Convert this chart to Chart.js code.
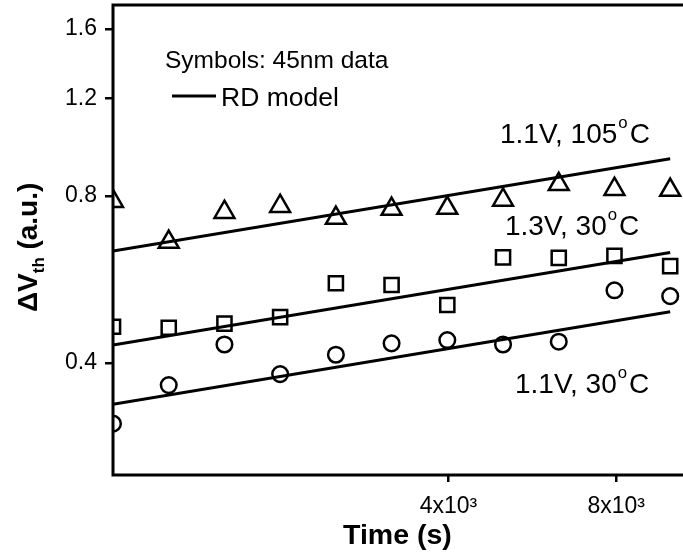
<!DOCTYPE html>
<html>
<head>
<meta charset="utf-8">
<script src="https://cdn.jsdelivr.net/npm/chart.js@4/dist/chart.umd.min.js"></script>
<style>
  html, body { margin: 0; padding: 0; background: #fff; overflow: hidden; }
  #wrap { width: 683px; height: 555px; overflow: hidden; }
  canvas { display: block; }
</style>
</head>
<body>
<div id="wrap"><canvas id="c" width="683" height="555"></canvas></div>
<script>
// ---- data ----
const times = [1000, 1259, 1585, 1995, 2512, 3162, 3981, 5012, 6310, 7943, 10000];
const dv_1p1V_105C = [0.783, 0.661, 0.748, 0.767, 0.730, 0.758, 0.761, 0.787, 0.840, 0.823, 0.820];
const dv_1p3V_30C  = [0.465, 0.463, 0.471, 0.484, 0.557, 0.553, 0.509, 0.620, 0.619, 0.624, 0.598];
const dv_1p1V_30C  = [0.311, 0.365, 0.432, 0.382, 0.414, 0.434, 0.440, 0.432, 0.437, 0.541, 0.528];

const modelTimes = [1000, 10000];
const model_1p1V_105C = [0.637, 0.934];
const model_1p3V_30C  = [0.431, 0.633];
const model_1p1V_30C  = [0.337, 0.495];

const xTickValues = [4000, 8000];
const xTickLabels = ['4x10\u00B3', '8x10\u00B3'];
const yTickValues = [0.4, 0.8, 1.2, 1.6];
const yTickLabels = ['0.4', '0.8', '1.2', '1.6'];

const FONT = '"Liberation Sans", Arial, Helvetica, sans-serif';

function pts(xs, ys) { return xs.map((x, i) => ({ x: x, y: ys[i] })); }

function symbolSet(data, style, radius) {
  return {
    type: 'line', data: data, showLine: false, clip: 0,
    pointStyle: style, pointRadius: radius, pointHoverRadius: radius,
    pointBorderColor: '#000', pointBackgroundColor: 'rgba(0,0,0,0)', pointBorderWidth: 2.5,
    borderColor: '#000'
  };
}
function modelSet(data) {
  return {
    type: 'line', data: data, showLine: true, clip: 0,
    borderColor: '#000', borderWidth: 3, pointRadius: 0, fill: false, tension: 0
  };
}

function rich(ctx, segs, x, y, size, bold) {
  let cx = x;
  ctx.textAlign = 'left';
  ctx.textBaseline = 'alphabetic';
  for (const s of segs) {
    const fs = (s.sup || s.sub) ? size * 0.6 : size;
    ctx.font = (bold ? 'bold ' : '') + fs + 'px ' + FONT;
    const dy = s.sup ? -size * 0.52 : (s.sub ? size * 0.25 : 0);
    if (s.sup) cx += 1;
    ctx.fillText(s.t, cx, y + dy);
    cx += ctx.measureText(s.t).width + (s.sup ? 2 : 0);
  }
}

// plot area as in the reference (its right edge lies past the visible window)
const PLOT = { left: 113, top: 5, right: 704, bottom: 475 };

const forceArea = {
  id: 'forceArea',
  afterLayout(chart) {
    const ca = chart.chartArea;
    ca.left = PLOT.left; ca.top = PLOT.top; ca.right = PLOT.right; ca.bottom = PLOT.bottom;
    ca.width = PLOT.right - PLOT.left; ca.height = PLOT.bottom - PLOT.top;
    const x = chart.scales.x, y = chart.scales.y;
    x.left = PLOT.left; x.right = PLOT.right; x.width = PLOT.right - PLOT.left;
    x.top = PLOT.bottom; x.bottom = chart.height; x.height = chart.height - PLOT.bottom;
    y.left = 0; y.right = PLOT.left; y.width = PLOT.left;
    y.top = PLOT.top; y.bottom = PLOT.bottom; y.height = PLOT.bottom - PLOT.top;
    x.configure(); y.configure();
  }
};

const overlay = {
  id: 'overlay',
  afterDraw(chart) {
    const ctx = chart.ctx, a = chart.chartArea;
    ctx.save();
    ctx.strokeStyle = '#000';
    ctx.fillStyle = '#000';
    ctx.lineWidth = 3;
    ctx.strokeRect(a.left, a.top, a.right - a.left, a.bottom - a.top);
    // legend-like annotation
    rich(ctx, [{ t: 'Symbols: 45nm data' }], 165, 68, 24.5, false);
    ctx.beginPath(); ctx.moveTo(172, 96); ctx.lineTo(216, 96); ctx.stroke();
    rich(ctx, [{ t: 'RD model' }], 221, 106, 26.5, false);
    // curve labels
    rich(ctx, [{ t: '1.1V, 105' }, { t: 'o', sup: true }, { t: 'C' }], 500, 143, 28, false);
    rich(ctx, [{ t: '1.3V, 30' }, { t: 'o', sup: true }, { t: 'C' }], 505, 235, 28, false);
    rich(ctx, [{ t: '1.1V, 30' }, { t: 'o', sup: true }, { t: 'C' }], 515, 393, 28, false);
    // axis titles
    rich(ctx, [{ t: 'Time (s)' }], 343, 544, 28.5, true);
    ctx.translate(37, 312);
    ctx.rotate(-Math.PI / 2);
    rich(ctx, [{ t: '\u0394V' }, { t: 'th', sub: true }, { t: ' (a.u.)' }], 0, 0, 28, true);
    ctx.restore();
  }
};

new Chart(document.getElementById('c'), {
  type: 'line',
  data: {
    datasets: [
      modelSet(pts(modelTimes, model_1p1V_105C)),
      modelSet(pts(modelTimes, model_1p3V_30C)),
      modelSet(pts(modelTimes, model_1p1V_30C)),
      symbolSet(pts(times, dv_1p1V_105C), 'triangle', 11.5),
      symbolSet(pts(times, dv_1p3V_30C), 'rect', 10),
      symbolSet(pts(times, dv_1p1V_30C), 'circle', 7.8)
    ]
  },
  options: {
    responsive: false,
    animation: false,
    devicePixelRatio: 1,
    layout: { padding: 0 },
    plugins: { legend: { display: false }, tooltip: { enabled: false } },
    scales: {
      x: {
        type: 'logarithmic', position: 'bottom',
        min: 1000, max: 11500,
        afterBuildTicks: s => { s.ticks = xTickValues.map(v => ({ value: v })); },
        afterFit: s => { s.height = 80; },
        border: { display: false },
        grid: { drawOnChartArea: false, drawTicks: true, tickLength: 7, lineWidth: 2.5, color: '#000' },
        ticks: {
          autoSkip: false, maxRotation: 0, color: '#000', padding: 11,
          font: { family: FONT, size: 23 },
          callback: (v) => { const i = xTickValues.indexOf(v); return i >= 0 ? xTickLabels[i] : ''; }
        }
      },
      y: {
        type: 'logarithmic', position: 'left',
        min: 0.2513, max: 1.768,
        afterBuildTicks: s => { s.ticks = yTickValues.map(v => ({ value: v })); },
        afterFit: s => { s.width = 113; },
        border: { display: false },
        grid: { drawOnChartArea: false, drawTicks: true, tickLength: 8, lineWidth: 2.5, color: '#000' },
        ticks: {
          autoSkip: false, color: '#000', padding: 8,
          font: { family: FONT, size: 23 },
          callback: (v) => { const i = yTickValues.indexOf(v); return i >= 0 ? yTickLabels[i] : ''; }
        }
      }
    }
  },
  plugins: [forceArea, overlay]
});
</script>
</body>
</html>
